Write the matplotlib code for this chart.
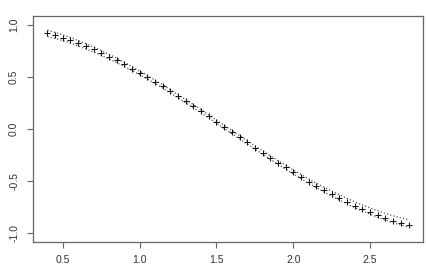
import matplotlib
matplotlib.use("Agg")
import matplotlib.pyplot as plt

# fitted points (x, estimate) and the two dotted bands
x = [0.40, 0.45, 0.50, 0.55, 0.60, 0.65, 0.70, 0.75, 0.80, 0.85,
     0.90, 0.95, 1.00, 1.05, 1.10, 1.15, 1.20, 1.25, 1.30, 1.35,
     1.40, 1.45, 1.50, 1.55, 1.60, 1.65, 1.70, 1.75, 1.80, 1.85,
     1.90, 1.95, 2.00, 2.05, 2.10, 2.15, 2.20, 2.25, 2.30, 2.35,
     2.40, 2.45, 2.50, 2.55, 2.60, 2.65, 2.70, 2.75]
y = [0.921, 0.900, 0.878, 0.853, 0.825, 0.796, 0.765, 0.732, 0.697, 0.660,
     0.622, 0.582, 0.540, 0.498, 0.454, 0.410, 0.362, 0.315, 0.267, 0.219,
     0.170, 0.121, 0.071, 0.021, -0.029, -0.079, -0.129, -0.178, -0.227, -0.276,
     -0.323, -0.370, -0.416, -0.461, -0.505, -0.547, -0.589, -0.628, -0.666, -0.703,
     -0.737, -0.770, -0.801, -0.830, -0.857, -0.882, -0.904, -0.924]
upper = [0.951, 0.929, 0.906, 0.880, 0.851, 0.821, 0.789, 0.755, 0.719, 0.681,
         0.642, 0.601, 0.558, 0.515, 0.470, 0.426, 0.377, 0.330, 0.282, 0.234,
         0.185, 0.136, 0.086, 0.036, -0.014, -0.063, -0.113, -0.161, -0.209, -0.257,
         -0.303, -0.349, -0.394, -0.437, -0.480, -0.520, -0.560, -0.597, -0.633, -0.668,
         -0.700, -0.731, -0.760, -0.787, -0.812, -0.835, -0.855, -0.873]
lower = [0.891, 0.871, 0.850, 0.826, 0.799, 0.771, 0.741, 0.709, 0.675, 0.639,
         0.602, 0.563, 0.522, 0.481, 0.438, 0.394, 0.347, 0.300, 0.252, 0.204,
         0.155, 0.106, 0.056, 0.006, -0.044, -0.094, -0.144, -0.193, -0.242, -0.291,
         -0.339, -0.386, -0.432, -0.477, -0.522, -0.564, -0.606, -0.646, -0.684, -0.721,
         -0.756, -0.789, -0.820, -0.850, -0.877, -0.902, -0.924, -0.944]

xticks = [0.5, 1.0, 1.5, 2.0, 2.5]
yticks = [-1.0, -0.5, 0.0, 0.5, 1.0]

plt.rcParams['font.family'] = ['Liberation Sans', 'DejaVu Sans']

fig = plt.figure(figsize=(4.27, 2.67), dpi=100)
ax = fig.add_axes([0.0773, 0.0936, 0.9133, 0.8464])

ax.plot(x, upper, ':', color='#555555', lw=0.9)
ax.plot(x, lower, ':', color='#555555', lw=0.9)
ax.plot(x, y, '+', color='#111111', ms=4.6, mew=0.75)

ax.set_xlim(0.306, 2.844)
ax.set_ylim(-1.087, 1.087)
ax.set_xticks(xticks)
ax.set_xticklabels(['%.1f' % v for v in xticks])
ax.set_yticks(yticks)
ax.set_yticklabels(['%.1f' % v for v in yticks], rotation=90, va='center')

for s in ax.spines.values():
    s.set_color('#666666')
    s.set_linewidth(0.9)
ax.tick_params(direction='out', length=4, width=0.8, color='#666666',
               labelsize=7.5, labelcolor='#333333')
ax.tick_params(axis='y', pad=6)
ax.tick_params(axis='x', pad=5)

fig.savefig('out.png', dpi=100)
